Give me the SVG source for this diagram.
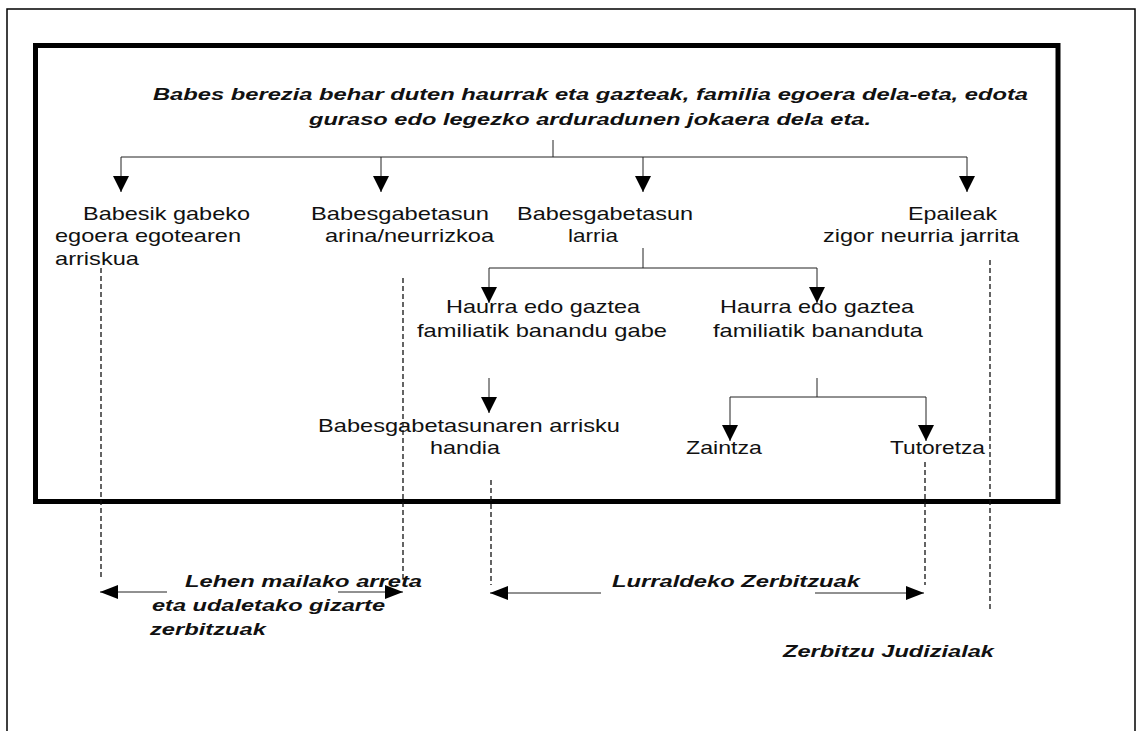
<svg xmlns="http://www.w3.org/2000/svg" width="1142" height="731" viewBox="0 0 1142 731">
<style>
.t{font-family:"Liberation Sans",Arial,sans-serif;font-size:18.5px;fill:#111}
.h{font-family:"Liberation Sans",Arial,sans-serif;font-size:16.5px;font-weight:bold;font-style:italic;fill:#111}
.c{stroke:#222;stroke-width:1;fill:none}
.d{stroke:#111;stroke-width:1.3;fill:none;stroke-dasharray:5 3}
</style>
<defs>
<marker id="ah" viewBox="0 0 16 16" refX="16" refY="8" markerWidth="16" markerHeight="16" markerUnits="userSpaceOnUse" orient="auto">
<path d="M0,0 L16,8 L0,16 z" fill="#000"/>
</marker>
<marker id="ah2" viewBox="0 0 18 14" refX="18" refY="7" markerWidth="18" markerHeight="14" markerUnits="userSpaceOnUse" orient="auto">
<path d="M0,0 L18,7 L0,14 z" fill="#000"/>
</marker>
</defs>
<rect x="7" y="9" width="1128" height="740" fill="none" stroke="#000" stroke-width="1.5"/>
<rect x="35.5" y="45.5" width="1022.5" height="456" fill="none" stroke="#000" stroke-width="5"/>

<g id="connectors">
<path class="c" d="M553,140 V157 M121,157 H967"/>
<path class="c" d="M121,157 V192" marker-end="url(#ah)"/>
<path class="c" d="M381,157 V192" marker-end="url(#ah)"/>
<path class="c" d="M643,157 V192" marker-end="url(#ah)"/>
<path class="c" d="M967,157 V192" marker-end="url(#ah)"/>
<path class="c" d="M643,248 V268 M489,268 H817"/>
<path class="c" d="M489,268 V303" marker-end="url(#ah)"/>
<path class="c" d="M817,268 V303" marker-end="url(#ah)"/>
<path class="c" d="M489,378 V413" marker-end="url(#ah)"/>
<path class="c" d="M817,378 V397 M730,397 H926"/>
<path class="c" d="M730,397 V441" marker-end="url(#ah)"/>
<path class="c" d="M926,397 V441" marker-end="url(#ah)"/>
<path class="d" d="M101,268 V578"/>
<path class="d" d="M403,278 V578"/>
<path class="d" d="M491,480 V585"/>
<path class="d" d="M925,462 V585"/>
<path class="d" d="M990,260 V612"/>
<path class="c" d="M167,592 H100" marker-end="url(#ah2)"/>
<path class="c" d="M338,592 H403" marker-end="url(#ah2)"/>
<path class="c" d="M601,593 H490" marker-end="url(#ah2)"/>
<path class="c" d="M815,593 H924" marker-end="url(#ah2)"/>
</g>

<g id="n-title">
<text class="h" x="153" y="100" textLength="875" lengthAdjust="spacingAndGlyphs">Babes berezia behar duten haurrak eta gazteak, familia egoera dela-eta, edota</text>
<text class="h" x="309" y="125" textLength="562" lengthAdjust="spacingAndGlyphs">guraso edo legezko arduradunen jokaera dela eta.</text>
</g>
<g id="n-arrisku">
<text class="t" x="83" y="220" textLength="167" lengthAdjust="spacingAndGlyphs">Babesik gabeko</text>
<text class="t" x="55" y="242" textLength="186" lengthAdjust="spacingAndGlyphs">egoera egotearen</text>
<text class="t" x="55" y="265" textLength="84" lengthAdjust="spacingAndGlyphs">arriskua</text>
</g>
<g id="n-arina">
<text class="t" x="311" y="220" textLength="178" lengthAdjust="spacingAndGlyphs">Babesgabetasun</text>
<text class="t" x="325" y="242" textLength="169" lengthAdjust="spacingAndGlyphs">arina/neurrizkoa</text>
</g>
<g id="n-larria">
<text class="t" x="517" y="220" textLength="176" lengthAdjust="spacingAndGlyphs">Babesgabetasun</text>
<text class="t" x="568" y="242" textLength="50" lengthAdjust="spacingAndGlyphs">larria</text>
</g>
<g id="n-epaileak">
<text class="t" x="908" y="220" textLength="89" lengthAdjust="spacingAndGlyphs">Epaileak</text>
<text class="t" x="823" y="242" textLength="196" lengthAdjust="spacingAndGlyphs">zigor neurria jarrita</text>
</g>
<g id="n-gabe">
<text class="t" x="446" y="313" textLength="194" lengthAdjust="spacingAndGlyphs">Haurra edo gaztea</text>
<text class="t" x="417" y="337" textLength="250" lengthAdjust="spacingAndGlyphs">familiatik banandu gabe</text>
</g>
<g id="n-bananduta">
<text class="t" x="720" y="313" textLength="194" lengthAdjust="spacingAndGlyphs">Haurra edo gaztea</text>
<text class="t" x="713" y="337" textLength="210" lengthAdjust="spacingAndGlyphs">familiatik bananduta</text>
</g>
<g id="n-handia">
<text class="t" x="318" y="432" textLength="302" lengthAdjust="spacingAndGlyphs">Babesgabetasunaren arrisku</text>
<text class="t" x="430" y="454" textLength="70" lengthAdjust="spacingAndGlyphs">handia</text>
</g>
<g id="n-zaintza">
<text class="t" x="686" y="454" textLength="76" lengthAdjust="spacingAndGlyphs">Zaintza</text>
</g>
<g id="n-tutoretza">
<text class="t" x="890" y="454" textLength="95" lengthAdjust="spacingAndGlyphs">Tutoretza</text>
</g>
<g id="n-lehen">
<text class="h" x="185" y="587" textLength="237" lengthAdjust="spacingAndGlyphs">Lehen mailako arreta</text>
<text class="h" x="152" y="611" textLength="233" lengthAdjust="spacingAndGlyphs">eta udaletako gizarte</text>
<text class="h" x="150" y="635" textLength="116" lengthAdjust="spacingAndGlyphs">zerbitzuak</text>
</g>
<g id="n-lurraldeko">
<text class="h" x="612" y="587" textLength="248" lengthAdjust="spacingAndGlyphs">Lurraldeko Zerbitzuak</text>
</g>
<g id="n-judizialak">
<text class="h" x="783" y="657" textLength="211" lengthAdjust="spacingAndGlyphs">Zerbitzu Judizialak</text>
</g>
</svg>
